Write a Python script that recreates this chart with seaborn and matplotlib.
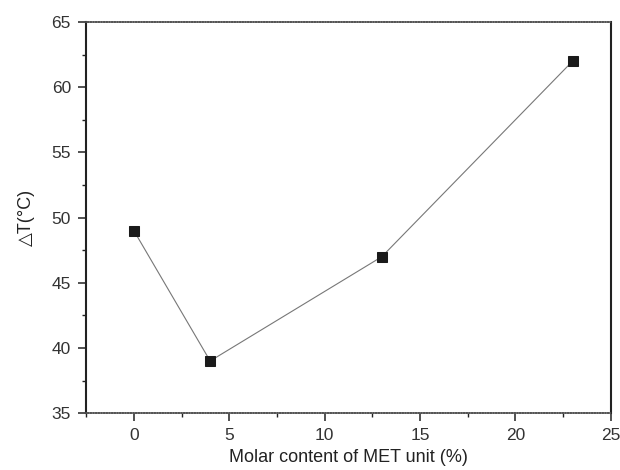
import matplotlib
matplotlib.use("Agg")
import matplotlib.pyplot as plt
import seaborn as sns
import pandas as pd
from matplotlib.ticker import MultipleLocator

sns.set_style("ticks")
plt.rcParams['font.family'] = ['Liberation Sans', 'DejaVu Sans']

met_content = [0, 4, 13, 23]
delta_t = [49, 39, 47, 62]
df = pd.DataFrame({"x": met_content, "y": delta_t})

fig = plt.figure(figsize=(6.2, 4.7), dpi=100)
ax = fig.add_axes([0.139, 0.121, 0.846, 0.832])

sns.lineplot(data=df, x="x", y="y", ax=ax, color="#777777", linewidth=0.8,
             marker="s", markersize=7, markerfacecolor="#1a1a1a",
             markeredgecolor="#1a1a1a", zorder=3)

ax.set_xlim(-2.5, 25)
ax.set_ylim(35, 65)
ax.xaxis.set_major_locator(MultipleLocator(5))
ax.xaxis.set_minor_locator(MultipleLocator(2.5))
ax.yaxis.set_major_locator(MultipleLocator(5))
ax.yaxis.set_minor_locator(MultipleLocator(2.5))

for s in ["left", "right"]:
    ax.spines[s].set_visible(True)
    ax.spines[s].set_linewidth(1.5)
    ax.spines[s].set_color("#222222")
for s in ["top", "bottom"]:
    ax.spines[s].set_visible(True)
    ax.spines[s].set_linewidth(1.2)
    ax.spines[s].set_color("#555555")
    ax.spines[s].set_linestyle((0, (1, 0.6)))

ax.tick_params(which="major", direction="out", length=6, width=1.1,
               color="#222222", labelsize=12.5, labelcolor="#333333", pad=5)
ax.tick_params(which="minor", direction="out", length=3, width=1.0, color="#222222")
ax.tick_params(top=False, right=False, which="both")

ax.set_xlabel("Molar content of MET unit (%)", fontsize=13, color="#222222", labelpad=4)
ax.set_ylabel("△T(°C)", fontsize=13, color="#222222", labelpad=12)

fig.savefig("out.png", dpi=100)
